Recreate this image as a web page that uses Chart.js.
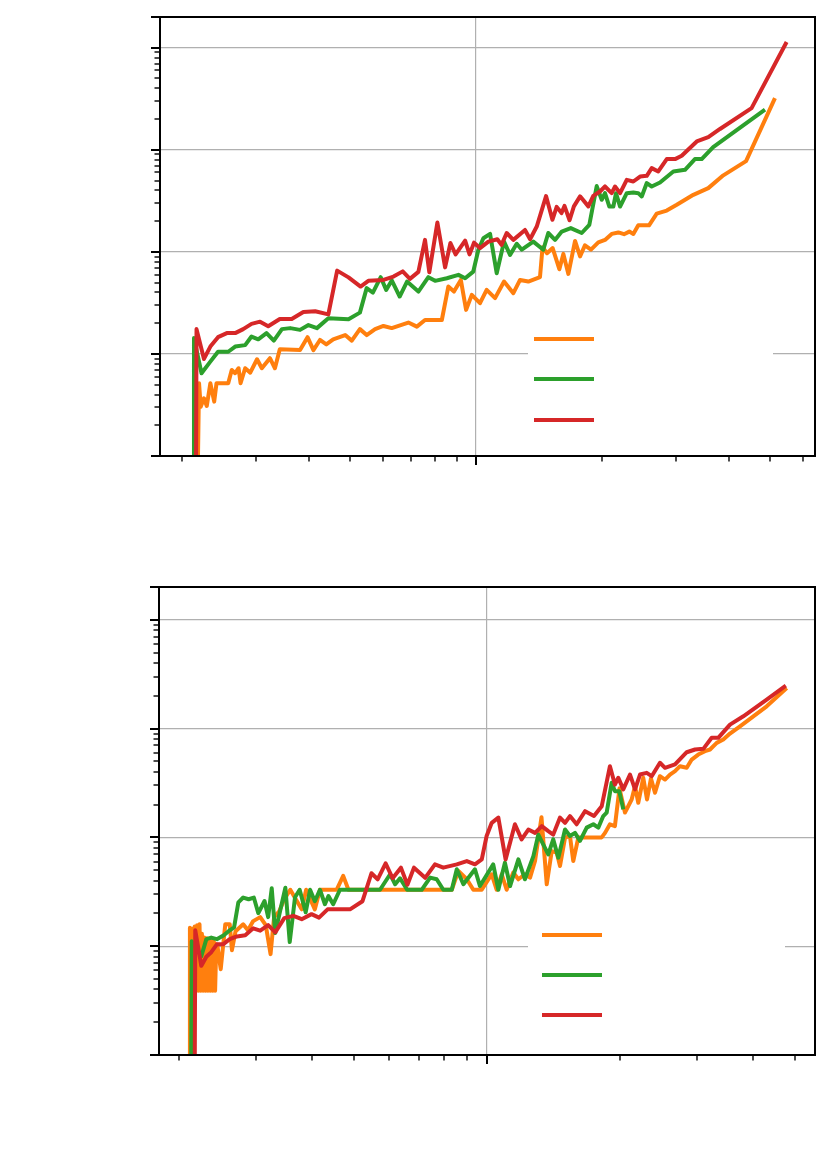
<!DOCTYPE html>
<html><head><meta charset="utf-8">
<script src="https://cdn.jsdelivr.net/npm/chart.js@4.4.1/dist/chart.umd.min.js"></script>
<style>
html,body{margin:0;padding:0;background:#fff;width:830px;height:1155px;overflow:hidden}
canvas{position:absolute;left:0}
#c1{top:0}
#c2{top:560px}
</style></head><body>
<canvas id="c1" width="830" height="560"></canvas>
<canvas id="c2" width="830" height="595"></canvas>
<script>
// ---------- data: top panel ----------
const topOrangeX = [21.6, 21.9, 22.1, 22.5, 22.85, 23.3, 23.8, 24.1, 25.7, 26.2, 26.7, 27.2, 27.5, 28.2, 29.0, 30.1, 30.9, 32.3, 33.2, 34.1, 38.1, 39.7, 41.0, 42.5, 44.0, 45.7, 48.8, 50.6, 52.9, 54.9, 57.5, 60.2, 63.0, 69.0, 72.3, 75.6, 82.9, 85.9, 88.6, 92.0, 94.7, 97.7, 102.2, 106, 111, 116.6, 122.7, 127.3, 133.2, 142, 144, 147.6, 152.2, 157.9, 161.4, 165.9, 172.1, 176.9, 181.7, 187.8, 195.5, 202.8, 210.4, 218.2, 225.1, 231.7, 236.9, 243.4, 258.2, 269.3, 284.5, 300.6, 329.2, 357.3, 388, 439.5, 515];
const topOrangeY = [0.01, 0.516, 0.304, 0.368, 0.309, 0.516, 0.341, 0.516, 0.516, 0.697, 0.647, 0.724, 0.516, 0.724, 0.656, 0.887, 0.724, 0.908, 0.724, 1.11, 1.09, 1.46, 1.09, 1.37, 1.24, 1.39, 1.53, 1.35, 1.75, 1.53, 1.75, 1.88, 1.79, 2.03, 1.85, 2.15, 2.15, 4.57, 4.08, 5.31, 2.70, 3.79, 3.14, 4.24, 3.52, 5.12, 3.94, 5.31, 5.12, 5.65, 11.1, 9.71, 10.9, 6.76, 9.55, 6.08, 12.8, 9.03, 11.6, 10.5, 12.4, 13.1, 15.0, 15.5, 14.9, 15.8, 15.0, 18.2, 18.2, 23.7, 25.4, 28.9, 36.2, 42.1, 56.2, 77.5, 321];
const topGreenX = [21.2, 21.3, 22.2, 23.3, 24.3, 25.7, 26.7, 28.2, 29.2, 30.3, 31.7, 33.0, 34.5, 36.1, 38.1, 39.9, 41.8, 44.5, 49.7, 52.9, 54.9, 56.8, 59.3, 61.1, 63.0, 65.8, 68.5, 72.9, 77.0, 79.9, 85.2, 90.8, 94.2, 98.5, 101.3, 104.1, 108, 112, 116.6, 120.5, 125, 128.5, 136.9, 144.6, 148.6, 154.2, 160, 168.1, 178.5, 186.1, 193.8, 199.2, 202.8, 207.7, 212.3, 215.4, 220.3, 228.5, 236.9, 243.4, 248.1, 255, 262, 274.2, 295, 314.5, 332, 344.6, 367, 487.6];
const topGreenY = [0.01, 1.43, 0.647, 0.840, 1.05, 1.05, 1.18, 1.22, 1.48, 1.39, 1.60, 1.35, 1.75, 1.79, 1.72, 1.92, 1.79, 2.24, 2.19, 2.54, 4.41, 3.99, 5.65, 4.24, 5.25, 3.65, 5.12, 4.08, 5.65, 5.20, 5.52, 5.95, 5.52, 6.41, 10.5, 13.6, 15.0, 6.18, 12.6, 9.35, 12.0, 10.5, 12.6, 10.5, 15.3, 13.1, 15.8, 17.1, 15.3, 18.4, 44.1, 32.4, 37.6, 27.8, 27.8, 37.6, 27.8, 37.6, 38.1, 37.6, 34.9, 47.2, 43.7, 47.8, 61.3, 63.7, 81.1, 81.1, 106.3, 247];
const topRedX = [21.5, 21.6, 22.5, 23.3, 24.3, 25.5, 26.7, 27.9, 29.2, 30.6, 32.0, 34.1, 36.4, 38.8, 41.4, 44.5, 46.7, 49.7, 53.1, 55.4, 60.2, 63.6, 66.9, 69.6, 72.9, 75.6, 77.4, 80.9, 84.4, 86.9, 89.4, 94.2, 96.5, 98.9, 102.2, 107, 112.4, 115, 118.3, 122.7, 130.8, 134.5, 139.5, 146.8, 152, 155.6, 159.8, 162.4, 167, 171, 176.9, 185.1, 190.2, 197.3, 202.8, 210.4, 214.3, 220.3, 228.5, 236.9, 245.8, 255, 262, 271.6, 284.5, 297.8, 308.9, 335.4, 357.3, 381, 453, 549];
const topRedY = [0.01, 1.75, 0.893, 1.18, 1.46, 1.60, 1.60, 1.75, 1.97, 2.07, 1.87, 2.20, 2.20, 2.58, 2.62, 2.44, 6.55, 5.62, 4.57, 5.20, 5.31, 5.73, 6.44, 5.44, 6.37, 13.1, 6.30, 19.4, 7.05, 12.2, 9.45, 12.9, 9.45, 12.3, 10.9, 12.6, 13.3, 11.7, 15.3, 13.1, 16.4, 13.3, 17.7, 35.2, 20.6, 27.6, 24.0, 28.2, 20.4, 27.9, 35.0, 27.9, 35.4, 39.0, 43.7, 37.6, 43.7, 37.6, 50.8, 48.9, 54.7, 55.6, 66.1, 61.3, 81.1, 81.1, 87.3, 120.6, 133, 160, 256, 1137];

// ---------- data: bottom panel ----------
const botOrangeX = [21.1, 21.2, 21.33, 21.47, 21.6, 21.74, 21.87, 22.01, 22.15, 22.29, 22.43, 22.57, 22.71, 22.85, 23.0, 23.14, 23.29, 23.43, 23.58, 23.73, 23.88, 24.03, 24.18, 24.33, 24.5, 24.9, 25.5, 26.1, 26.4, 26.9, 28.0, 28.7, 29.5, 30.6, 31.5, 32.3, 32.9, 33.8, 34.7, 35.8, 38.0, 38.9, 40.7, 41.8, 45.6, 47.2, 48.5, 83.2, 86.1, 90.0, 93.1, 97.3, 102.5, 105.2, 108.0, 110.8, 114.7, 117.8, 121.9, 125.2, 128.5, 132.9, 136.6, 140.2, 143.9, 146.4, 150.3, 154.2, 156.9, 161.1, 182.0, 185.2, 190.0, 195.0, 199.7, 205.5, 212.8, 216.6, 220.3, 226.1, 230.6, 235.4, 240.4, 246.7, 253.3, 260.0, 266.9, 273.9, 283.7, 291.2, 301.3, 312.1, 320.4, 331.8, 343.4, 355.6, 374.7, 401.7, 430.7, 478.2];
const botOrangeY = [0.01, 1.48, 0.39, 1.45, 0.39, 1.52, 0.39, 1.56, 0.39, 1.59, 0.39, 1.3, 0.39, 1.2, 0.39, 1.18, 0.39, 1.16, 0.39, 1.16, 0.39, 1.1, 0.39, 1.04, 0.979, 0.615, 1.59, 1.59, 0.919, 1.37, 1.59, 1.40, 1.70, 1.85, 1.56, 0.845, 1.85, 2.09, 2.70, 3.3, 2.18, 3.3, 2.18, 3.3, 3.3, 4.43, 3.3, 3.3, 4.93, 4.12, 3.3, 3.3, 4.58, 3.3, 4.58, 3.3, 4.75, 4.12, 4.58, 4.27, 6.06, 15.3, 3.71, 7.48, 7.24, 5.46, 9.94, 10.3, 6.06, 10.0, 10.0, 11.0, 13.2, 12.7, 28.2, 16.9, 22.3, 29.6, 20.8, 35.3, 22.3, 34.8, 25.7, 36.5, 34.0, 37.8, 40.6, 45.1, 43.6, 51.9, 57.7, 61.9, 64.2, 73.9, 79.3, 90.0, 105, 129.7, 160.2, 236];
const botGreenX = [21.3, 21.4, 22.5, 23.1, 23.7, 24.4, 25.3, 26.1, 26.7, 27.3, 28.0, 28.8, 29.6, 30.3, 31.3, 31.9, 32.5, 33.1, 33.9, 34.9, 35.7, 36.7, 37.6, 38.8, 39.7, 40.7, 41.8, 42.9, 43.7, 44.8, 46.4, 57.2, 60.3, 61.9, 63.5, 65.9, 71.1, 74.3, 76.9, 79.6, 83.2, 85.4, 88.4, 93.9, 96.4, 103.3, 106.1, 109.8, 112.8, 117.8, 121.9, 127.4, 130.7, 137.7, 141.3, 145.1, 150.3, 154.2, 158.3, 162.5, 168.3, 174.2, 178.8, 183.5, 186.8, 191.7, 195.0, 199.5, 203.7];
const botGreenY = [0.01, 1.11, 0.809, 1.16, 1.20, 1.16, 1.26, 1.40, 1.49, 2.53, 2.80, 2.70, 2.80, 2.01, 2.60, 1.85, 3.40, 1.32, 2.05, 3.44, 1.09, 2.82, 3.3, 2.05, 3.3, 2.59, 3.3, 2.43, 2.89, 2.43, 3.3, 3.3, 4.58, 3.71, 4.21, 3.3, 3.3, 4.27, 4.12, 3.3, 3.3, 5.09, 3.71, 5.09, 3.57, 5.65, 3.3, 5.86, 3.57, 6.28, 4.12, 6.73, 10.6, 6.98, 9.59, 6.51, 11.8, 10.3, 11.0, 9.29, 12.3, 13.2, 12.3, 15.7, 16.9, 31.8, 26.6, 26.6, 18.1];
const botRedX = [21.7, 21.8, 22.5, 23.1, 23.7, 24.4, 25.2, 26.1, 27.1, 28.3, 29.5, 30.6, 31.9, 33.1, 34.7, 36.4, 38.0, 40.0, 41.6, 43.5, 48.9, 52.2, 54.7, 56.5, 58.9, 61.1, 63.8, 66.0, 68.3, 72.4, 76.2, 79.6, 85.4, 90.0, 93.9, 97.3, 99.8, 102.5, 106.1, 110.2, 115.7, 119.8, 124.1, 128.5, 133.1, 137.7, 141.3, 146.4, 150.3, 154.2, 159.7, 166.9, 174.8, 182.0, 190.0, 195.0, 198.5, 203.7, 211.0, 216.6, 222.3, 230.2, 236.3, 246.7, 253.3, 266.9, 283.7, 296.3, 309.4, 323.2, 334.5, 355.6, 381.3, 430.7, 476];
const botRedY = [0.01, 1.40, 0.660, 0.801, 0.881, 1.04, 1.04, 1.16, 1.23, 1.26, 1.46, 1.39, 1.56, 1.34, 1.81, 1.90, 1.77, 1.97, 1.83, 2.18, 2.18, 2.59, 4.68, 4.12, 5.77, 4.21, 5.27, 3.67, 5.27, 4.25, 5.65, 5.27, 5.65, 6.06, 5.65, 6.28, 10.3, 13.6, 15.2, 6.28, 13.2, 9.59, 11.8, 11.0, 12.7, 11.4, 10.6, 15.2, 13.6, 15.7, 13.2, 17.4, 15.7, 19.3, 45.1, 30.6, 35.3, 27.6, 37.8, 27.6, 37.8, 39.2, 36.5, 48.5, 43.6, 46.8, 60.6, 64.2, 65.1, 82.2, 82.2, 108.8, 129.7, 184.5, 248];

// ---------- ticks ----------
const yMajorTicks = [0.1, 1, 10, 100, 1000, 2000];
const yMinorTicks = [0.2,0.3,0.4,0.5,0.6,0.7,0.8,0.9, 2,3,4,5,6,7,8,9, 20,30,40,50,60,70,80,90, 200,300,400,500,600,700,800,900];
const topXMajorTicks = [100];
const topXMinorTicks = [20,30,40,50,60,70,80,90,200,300,400,500,600];
const botXMajorTicks = [100];
const botXMinorTicks = [20,30,40,50,60,70,80,90,200,300,400,500];
const yTickLabels = {'0.1':'10⁻¹','1':'10⁰','10':'10¹','100':'10²','1000':'10³'};
const xTickLabels = {'100':'10²'};

const COL = {orange:'#ff7f0e', green:'#2ca02c', red:'#d62728'};

function pts(xs, ys){ return xs.map((x,i)=>({x:x, y:ys[i]})); }
function isDecade(v){ const l = Math.log10(v); return Math.abs(l - Math.round(l)) < 1e-9; }

function ds(xs, ys, color, order){
  return { data: pts(xs, ys), borderColor: color, backgroundColor: color, borderWidth: 4,
    pointRadius: 0, pointHoverRadius: 0, tension: 0, fill: false, order: order, clip: 0,
    borderJoinStyle: 'round', borderCapStyle: 'butt' };
}

function scale(axis, min, max, tickVals, labels, fit){
  return {
    type: 'logarithmic', position: axis === 'x' ? 'bottom' : 'left', min: min, max: max,
    afterBuildTicks: s => { s.ticks = tickVals.map(v => ({value: v, major: isDecade(v)})); },
    afterFit: s => {
      if (axis === 'x') s.height = fit; else s.width = fit;
      s.paddingTop = 0; s.paddingBottom = 0; s.paddingLeft = 0; s.paddingRight = 0;
    },
    grid: { display: true, drawTicks: false, lineWidth: 1.2,
      color: c => (c.tick && isDecade(c.tick.value)) ? '#b0b0b0' : 'rgba(0,0,0,0)' },
    border: { display: false },
    ticks: { display: true, color: '#ffffff', autoSkip: false, maxRotation: 0, padding: 12,
      font: { size: 12, family: 'DejaVu Sans' }, callback: v => labels[String(v)] || '' }
  };
}

const framePlugin = {
  id: 'frame',
  afterDatasetsDraw(chart, args, o){
    const ctx = chart.ctx, L = o.legend;
    ctx.save();
    ctx.fillStyle = '#ffffff';
    ctx.fillRect(L.x, L.y, L.w, L.h);
    const cols = [COL.orange, COL.green, COL.red];
    ctx.lineWidth = 4; ctx.lineCap = 'butt';
    L.hy.forEach((y, i) => {
      ctx.strokeStyle = cols[i];
      ctx.beginPath(); ctx.moveTo(L.hx1, y); ctx.lineTo(L.hx2, y); ctx.stroke();
    });
    ctx.restore();
  },
  afterDraw(chart, args, o){
    const ctx = chart.ctx, a = chart.chartArea, xs = chart.scales.x, ys = chart.scales.y;
    ctx.save();
    ctx.strokeStyle = '#000000';
    const tick = (vals, len, w, isX) => {
      ctx.lineWidth = w;
      vals.forEach(v => {
        ctx.beginPath();
        if (isX) { const p = Math.round(xs.getPixelForValue(v)); ctx.moveTo(p, a.bottom); ctx.lineTo(p, a.bottom + len); }
        else { const p = Math.round(ys.getPixelForValue(v)); ctx.moveTo(a.left, p); ctx.lineTo(a.left - len, p); }
        ctx.stroke();
      });
    };
    tick(o.xMajor, 9, 2, true);
    tick(o.xMinor, 5.5, 1.4, true);
    tick(yMajorTicks, 9, 2, false);
    tick(yMinorTicks, 5.5, 1.4, false);
    ctx.lineWidth = 2;
    ctx.strokeRect(a.left, a.top, a.right - a.left, a.bottom - a.top);
    ctx.restore();
  }
};

function makeChart(id, pad, xMin, xMax, xMaj, xMin2, fitX, fitY, legend, series){
  return new Chart(document.getElementById(id), {
    type: 'line',
    data: { datasets: series },
    options: {
      responsive: false, animation: false, devicePixelRatio: 1,
      layout: { padding: pad },
      plugins: { legend: { display: false }, tooltip: { enabled: false },
        frame: { legend: legend, xMajor: xMaj, xMinor: xMin2 } },
      scales: {
        x: scale('x', xMin, xMax, xMaj.concat(xMin2), xTickLabels, fitX),
        y: scale('y', 0.1, 2000, yMajorTicks.concat(yMinorTicks), yTickLabels, fitY)
      }
    },
    plugins: [framePlugin]
  });
}

makeChart('c1', {top: 17, right: 15, left: 0, bottom: 0}, 17.68, 641.4,
  topXMajorTicks, topXMinorTicks, 104, 160,
  {x: 528, y: 318, w: 245, h: 124, hx1: 534, hx2: 594, hy: [339, 379, 420]},
  [ds(topOrangeX, topOrangeY, COL.orange, 3), ds(topGreenX, topGreenY, COL.green, 2), ds(topRedX, topRedY, COL.red, 1)]);

makeChart('c2', {top: 27, right: 15, left: 0, bottom: 0}, 18.04, 554.3,
  botXMajorTicks, botXMinorTicks, 100, 159,
  {x: 528, y: 354, w: 257, h: 122, hx1: 542, hx2: 602, hy: [375, 415, 455]},
  [ds(botOrangeX, botOrangeY, COL.orange, 3), ds(botGreenX, botGreenY, COL.green, 2), ds(botRedX, botRedY, COL.red, 1)]);
</script>
</body></html>
